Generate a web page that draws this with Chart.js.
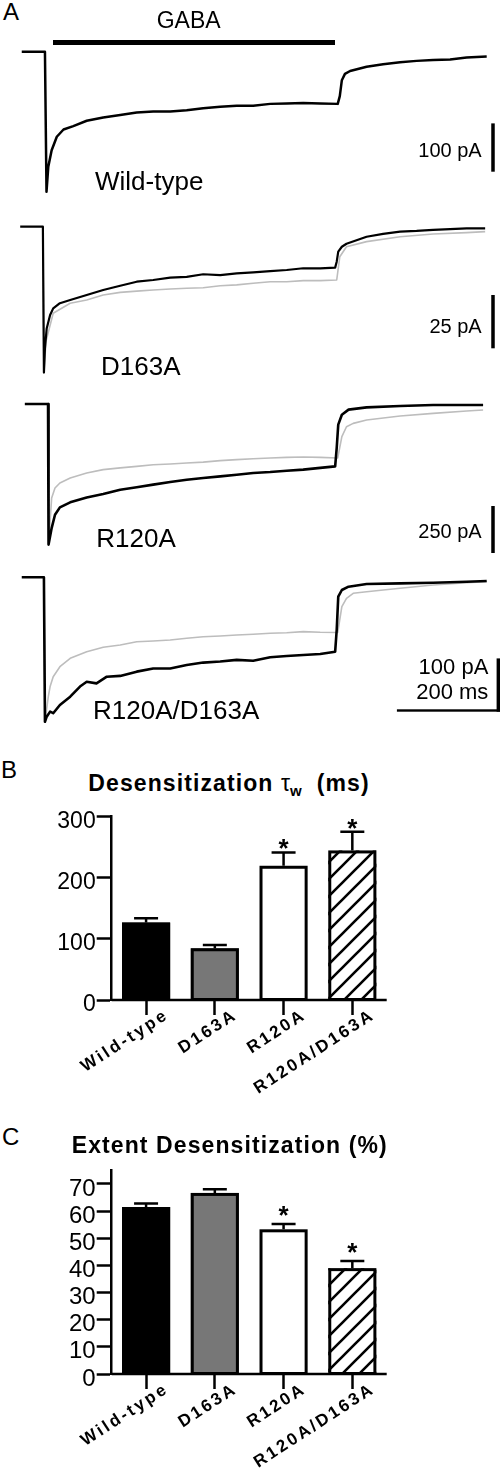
<!DOCTYPE html>
<html><head><meta charset="utf-8">
<script src="https://cdn.jsdelivr.net/npm/chart.js@4.4.1/dist/chart.umd.min.js"></script>
<style>
html,body{margin:0;padding:0;background:#fff;}
body{width:500px;height:1474px;position:relative;overflow:hidden;font-family:"Liberation Sans",Arial,sans-serif;color:#000;}
.t{position:absolute;line-height:1;white-space:nowrap;}
.ttl{font-weight:bold;font-size:23px;letter-spacing:1.1px;}
canvas{position:absolute;left:0;}
</style></head><body>
<canvas id="cWT" width="500" height="175" style="top:30px;width:500px;height:175px"></canvas>
<canvas id="cD" width="500" height="175" style="top:210px;width:500px;height:175px"></canvas>
<canvas id="cR" width="500" height="160" style="top:395px;width:500px;height:160px"></canvas>
<canvas id="cRD" width="500" height="165" style="top:565px;width:500px;height:165px"></canvas>
<canvas id="cB" width="500" height="310" style="top:800px;width:500px;height:310px"></canvas>
<canvas id="cC" width="500" height="319" style="top:1155px;width:500px;height:319px"></canvas>

<div class="t" style="left:3px;top:0px;font-size:24px">A</div>
<div class="t" style="left:156.7px;top:8.8px;font-size:23px">GABA</div>
<div style="position:absolute;left:53.3px;top:40px;width:281.7px;height:5px;background:#000"></div>
<div class="t" style="left:95px;top:168.3px;font-size:26px">Wild-type</div>
<div class="t" style="right:18.3px;top:139.8px;font-size:20px">100 pA</div>
<div class="t" style="left:101px;top:353px;font-size:26px">D163A</div>
<div class="t" style="right:18.3px;top:316.4px;font-size:20px">25 pA</div>
<div class="t" style="left:96.3px;top:524.7px;font-size:26px">R120A</div>
<div class="t" style="right:18.3px;top:520.5px;font-size:20px">250 pA</div>
<div class="t" style="left:93px;top:696.7px;font-size:26px">R120A/D163A</div>
<div class="t" style="right:11.7px;top:656.4px;font-size:22px">100 pA</div>
<div class="t" style="right:11.7px;top:680.7px;font-size:22px">200 ms</div>

<div class="t" style="left:1px;top:757.7px;font-size:24px">B</div>
<div class="t ttl" style="left:88.3px;top:772.2px">Desensitization <span style="font-weight:normal;letter-spacing:0">τ</span><sub style="font-size:15px;vertical-align:-5px;letter-spacing:0">w</sub>&nbsp;&nbsp;(ms)</div>
<div class="t" style="left:2px;top:1124.7px;font-size:24px">C</div>
<div class="t ttl" style="left:71.7px;top:1133.8px">Extent Desensitization (%)</div>

<script>
// ---------- Panel A: current traces (time in ms, current in pA) ----------
const wtTime = [-47, -2, 1, 4.5, 11, 21, 34, 53, 79, 111, 144, 176, 208, 241, 273, 305, 338, 370, 402, 435, 467, 499, 532, 566, 570, 574, 580, 590, 622, 654, 687, 719, 751, 784, 816, 855];
const wtCurrent = [0, 0, -290, -238, -204, -176, -161, -154, -143, -136, -131, -126, -124, -124, -121, -117, -114, -112, -112, -108, -107, -106, -107, -108, -92, -59, -46, -40, -31, -26, -22, -19, -17, -16, -12, -10];

const d163aTime = [-50, -6, -4, -2, 1.4, 8, 14, 27, 47, 79, 111, 144, 176, 208, 241, 273, 305, 338, 370, 402, 435, 467, 499, 532, 561, 564, 567, 574, 583, 622, 654, 687, 719, 751, 784, 816, 852];
const d163aCurrent = [0, 0, -68.4, -57.0, -47.7, -41.4, -38.3, -35.9, -34.4, -32.0, -29.7, -27.7, -25.8, -25.0, -23.9, -23.5, -22.3, -22.7, -21.9, -21.4, -20.8, -20.3, -19.5, -19.5, -19.2, -16.4, -11.7, -9.4, -8.0, -4.7, -3.4, -2.3, -2.0, -1.5, -1.1, -0.8, -0.8];
const d163aRefTime = [-6, -4, 0, 14, 47, 79, 111, 144, 176, 208, 241, 273, 305, 338, 370, 402, 435, 467, 499, 532, 564, 570, 583, 622, 687, 751, 816, 852];
const d163aRefCurrent = [0, -68.4, -53.8, -40.6, -35.9, -34.4, -32.0, -30.8, -30.2, -29.7, -29.2, -28.9, -28.6, -27.7, -27.3, -26.5, -25.8, -25.8, -25.3, -25.3, -25.0, -14.1, -9.4, -7.0, -4.7, -3.4, -2.8, -2.3];

const r120aTime = [-41, 4, 5, 11, 17.5, 27, 47, 79, 111, 144, 176, 208, 241, 273, 305, 338, 370, 402, 435, 467, 499, 532, 561, 564, 567, 574, 587, 622, 687, 751, 848];
const r120aCurrent = [0, 0, -748, -660, -589, -550, -523, -497, -479, -456, -443, -429, -415, -403, -394, -385, -376, -367, -362, -355, -349, -340, -332, -234, -110, -57, -30, -18, -11, -5, -5];
const r120aRefTime = [-41, 4, 5, 11, 17.5, 27, 47, 79, 111, 144, 176, 208, 241, 273, 305, 338, 370, 402, 435, 467, 499, 532, 566, 574, 583, 596, 622, 687, 751, 816, 848];
const r120aRefCurrent = [0, 0, -748, -500, -447, -420, -394, -367, -349, -340, -332, -323, -319, -314, -309, -301, -296, -291, -287, -284, -282, -284, -287, -174, -121, -103, -85, -64, -50, -37, -32];

const rdTime = [-47, -4, -2, 1.4, 8, 14, 27, 47, 66, 79, 98, 118, 144, 176, 208, 241, 273, 305, 338, 370, 402, 435, 467, 499, 532, 561, 564, 567, 574, 587, 622, 687, 751, 816, 855];
const rdCurrent = [0, 0, -271, -261.5, -252, -255, -239.6, -224, -205, -196, -199, -186.5, -185, -177, -171, -171, -164.5, -160, -158, -155, -156.5, -150, -147.6, -145.8, -144, -139.6, -98.9, -36.4, -23.8, -17.6, -12.6, -11.3, -10.1, -8.3, -6.9];
const rdRefTime = [-4, -2, 4.5, 8, 14, 27, 47, 79, 111, 144, 176, 208, 241, 273, 305, 338, 370, 402, 435, 467, 499, 532, 566, 574, 583, 596, 622, 687, 751, 816, 855];
const rdRefCurrent = [0, -271, -224, -205, -186.5, -167.7, -152, -139.6, -131.3, -127, -120.8, -119.5, -117.6, -114.4, -111.4, -110.1, -108.2, -106.9, -105, -103.9, -102, -103.2, -103.5, -55.2, -39.4, -30, -27, -20.6, -14.4, -10.1, -8.3];

// ---------- Panels B and C: bar charts ----------
const categories = ['Wild-type', 'D163A', 'R120A', 'R120A/D163A'];
const tauMean = [126.7, 84.7, 219.7, 244.8];
const tauSem = [7.3, 5.3, 21.8, 30.6];
const extentMean = [61.5, 66.7, 53.3, 39.0];
const extentSem = [1.3, 1.4, 2.0, 2.6];
const significance = ['', '', '*', '*'];
const tauTicks = [0, 100, 200, 300];
const extentTicks = [0, 10, 20, 30, 40, 50, 60, 70];

const FONT = "'Liberation Sans', Arial, sans-serif";
const TIME_MIN = -89.2, TIME_MAX = 880.8;
const BLACK = '#000000', GREY = '#bdbdbd';

function pts(t, v) { return t.map((x, i) => ({ x: x, y: v[i] })); }

const scaleBarPlugin = {
  id: 'scaleBar',
  afterDraw(chart, args, o) {
    const ctx = chart.ctx, xs = chart.scales.x, ys = chart.scales.y;
    ctx.save();
    ctx.fillStyle = '#000';
    const len = Math.abs(ys.getPixelForValue(0) - ys.getPixelForValue(o.pA));
    ctx.fillRect(o.x - o.w / 2, o.bottom - len, o.w, len);
    if (o.ms) {
      const lx = Math.abs(xs.getPixelForValue(o.ms) - xs.getPixelForValue(0));
      ctx.fillRect(o.right - lx, o.bottom - o.h, lx, o.h);
    }
    ctx.restore();
  }
};

function trace(id, yMin, yMax, series, bar) {
  return new Chart(document.getElementById(id), {
    type: 'line',
    data: {
      datasets: series.map(s => ({
        data: pts(s.t, s.v), borderColor: s.color, borderWidth: s.w,
        pointRadius: 0, tension: 0, fill: false, clip: false,
        borderJoinStyle: 'round', borderCapStyle: 'butt'
      }))
    },
    options: {
      responsive: false, animation: false, devicePixelRatio: 1, events: [],
      layout: { padding: 0 },
      plugins: { legend: { display: false }, tooltip: { enabled: false }, scaleBar: bar },
      scales: {
        x: { type: 'linear', min: TIME_MIN, max: TIME_MAX, display: false },
        y: { type: 'linear', min: yMin, max: yMax, display: false }
      }
    },
    plugins: [scaleBarPlugin]
  });
}

trace('cWT', -317.3, 44.9,
  [{ t: wtTime, v: wtCurrent, color: BLACK, w: 2.5 }],
  { pA: 100, x: 493, w: 3.5, bottom: 141.7 });
trace('cD', -74.24, 7.83,
  [{ t: d163aTime, v: d163aCurrent, color: BLACK, w: 2.2 },
   { t: d163aRefTime, v: d163aRefCurrent, color: GREY, w: 1.6 }],
  { pA: 25, x: 493, w: 3.5, bottom: 138.3 });
trace('cR', -803.3, 47.9,
  [{ t: r120aTime, v: r120aCurrent, color: BLACK, w: 2.6 },
   { t: r120aRefTime, v: r120aRefCurrent, color: GREY, w: 1.6 }],
  { pA: 250, x: 493, w: 3.5, bottom: 158 });
trace('cRD', -286.5, 23.1,
  [{ t: rdTime, v: rdCurrent, color: BLACK, w: 2.6 },
   { t: rdRefTime, v: rdRefCurrent, color: GREY, w: 1.6 }],
  { pA: 100, x: 498.3, w: 3.4, bottom: 146.7, ms: 200, right: 500, h: 2.4 });

// ---------- bar charts ----------
function hatchPattern() {
  const s = 17, c = document.createElement('canvas');
  c.width = s; c.height = s;
  const g = c.getContext('2d');
  g.fillStyle = '#fff'; g.fillRect(0, 0, s, s);
  g.strokeStyle = '#000'; g.lineWidth = 2.6;
  g.beginPath();
  g.moveTo(0, s); g.lineTo(s, 0);
  g.moveTo(-s / 2, s / 2); g.lineTo(s / 2, -s / 2);
  g.moveTo(s / 2, s * 1.5); g.lineTo(s * 1.5, s / 2);
  g.stroke();
  return g.createPattern(c, 'repeat');
}

const errorBarPlugin = {
  id: 'errorBars',
  afterDatasetsDraw(chart, args, o) {
    const ctx = chart.ctx, meta = chart.getDatasetMeta(0), ys = chart.scales.y;
    const base = ys.getPixelForValue(0);
    ctx.save();
    ctx.strokeStyle = '#000'; ctx.fillStyle = '#000';
    // bar outlines
    ctx.lineWidth = 3; ctx.lineJoin = 'miter';
    meta.data.forEach(bar => {
      const p = bar.getProps(['x', 'y', 'base', 'width'], true);
      ctx.strokeRect(p.x - p.width / 2 + 1.5, p.y + 1.5, p.width - 3, p.base - p.y - 1.5);
    });
    // error bars and significance marks
    ctx.lineWidth = 2.5; ctx.lineCap = 'butt';
    meta.data.forEach((bar, i) => {
      const top = ys.getPixelForValue(o.mean[i]);
      const tip = ys.getPixelForValue(o.mean[i] + o.sem[i]);
      ctx.beginPath();
      ctx.moveTo(bar.x, top); ctx.lineTo(bar.x, tip);
      ctx.moveTo(bar.x - 12, tip); ctx.lineTo(bar.x + 12, tip);
      ctx.stroke();
      if (o.stars[i]) {
        ctx.font = 'bold 26px ' + FONT;
        ctx.textAlign = 'center'; ctx.textBaseline = 'alphabetic';
        ctx.fillText(o.stars[i], bar.x, tip + o.starShift);
      }
    });
    // x axis line at value 0
    ctx.fillRect(chart.chartArea.left, base - 1.25, chart.chartArea.right - chart.chartArea.left, 2.5);
    ctx.restore();
    ctx.letterSpacing = '2.7px';
  },
  afterDraw(chart) { chart.ctx.letterSpacing = '0px'; }
};

function barChart(id, means, sems, yMax, tickValues, padTop, xHeight, tickSize, starShift) {
  const canvas = document.getElementById(id);
  const pattern = hatchPattern();
  return new Chart(canvas, {
    type: 'bar',
    data: {
      labels: categories,
      datasets: [{
        data: means,
        backgroundColor: ['#000000', '#777777', '#ffffff', pattern],
        borderWidth: 0, inflateAmount: 0,
        barPercentage: 0.7, categoryPercentage: 1
      }]
    },
    options: {
      responsive: false, animation: false, devicePixelRatio: 1, events: [],
      layout: { padding: { top: padTop, left: 0, right: 113.3, bottom: 0 } },
      plugins: {
        legend: { display: false }, tooltip: { enabled: false },
        errorBars: { mean: means, sem: sems, stars: significance, starShift: starShift }
      },
      scales: {
        x: {
          grid: { display: true, drawOnChartArea: false, drawTicks: true, tickLength: 15, offset: false, tickColor: '#000', tickWidth: 2.5, color: '#000' },
          border: { display: false },
          ticks: { font: { family: FONT, size: 17, weight: 'bold' }, color: '#000', maxRotation: 33, minRotation: 33, autoSkip: false, padding: -10, labelOffset: 21, z: 1 },
          afterFit(s) { s.height = xHeight; }
        },
        y: {
          min: 0, max: yMax,
          grid: { display: true, drawOnChartArea: false, drawTicks: true, tickLength: 15, tickColor: '#000', tickWidth: 2.5 },
          border: { display: true, color: '#000', width: 2.5, z: 1 },
          ticks: { font: { family: FONT, size: tickSize }, color: '#000', padding: 1, labelOffset: 5, autoSkip: false, includeBounds: false, callback: v => String(v) },
          afterBuildTicks(s) { s.ticks = tickValues.map(v => ({ value: v })); },
          afterFit(s) { s.width = 111.7; }
        }
      }
    },
    plugins: [errorBarPlugin]
  });
}

barChart('cB', tauMean, tauSem, 300, tauTicks, 16.7, 110, 23, 4.8);
barChart('cC', extentMean, extentSem, 75, extentTicks, 13.3, 100, 24, 0.3);
</script>
</body></html>
